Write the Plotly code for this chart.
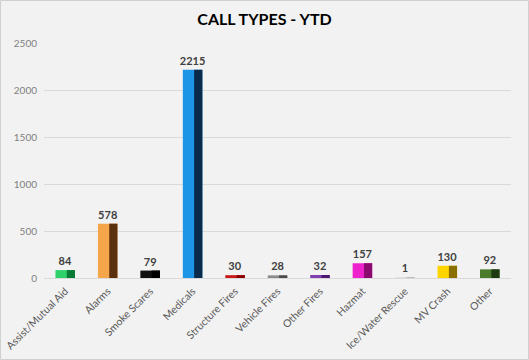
import plotly.graph_objects as go

categories = ["Assist/Mutual Aid", "Alarms", "Smoke Scares", "Medicals", "Structure Fires",
              "Vehicle Fires", "Other Fires", "Hazmat", "Ice/Water Rescue", "MV Crash", "Other"]
values = [84, 578, 79, 2215, 30, 28, 32, 157, 1, 130, 92]
light_colors = ["#2fd16a", "#f5a54a", "#111111", "#1c95e6", "#c81818", "#8a8a8a", "#8040b0",
                "#ee22cc", "#e0e0e0", "#ffd500", "#4a7a2a"]
dark_colors = ["#0b7a35", "#5a3210", "#000000", "#0a2a4a", "#8a0000", "#4a4a4a", "#4a1a70",
               "#8a0a70", "#bcbcbc", "#8a7000", "#1f3a10"]

W = 0.46
fig = go.Figure()
fig.add_trace(go.Bar(
    x=categories, y=values, width=W,
    marker=dict(color=light_colors, line=dict(width=0)),
    text=values, textposition="outside", cliponaxis=False, constraintext="none",
    textfont=dict(family="Lato", size=11, color="#404040", weight="bold"),
    hoverinfo="x+y", showlegend=False,
))
fig.add_trace(go.Bar(
    x=categories, y=values, width=W * 0.42, offset=W * 0.08,
    marker=dict(color=dark_colors, line=dict(width=0)),
    hoverinfo="skip", showlegend=False,
))

pw = 529 - 44 - 18
ph = 360 - 43 - 82
fig.update_layout(
    width=529, height=360,
    margin=dict(l=44, r=18, t=43, b=82),
    paper_bgcolor="#f2f2f2", plot_bgcolor="#f2f2f2",
    barmode="overlay",
    title=dict(text="<b>CALL TYPES - YTD</b>", x=0.5, xanchor="center", y=0.945, yanchor="middle",
               font=dict(family="Lato", size=16, color="#000000")),
    font=dict(family="Lato", color="#595959"),
    xaxis=dict(tickangle=-45, tickfont=dict(size=10.5, color="#595959"), showgrid=False,
               showline=True, linecolor="#d9d9d9", linewidth=1, ticks="", automargin=False,
               ticklabelstandoff=2),
    yaxis=dict(range=[0, 2500], dtick=500, tickfont=dict(size=10, color="#7f7f7f"),
               gridcolor="#d9d9d9", gridwidth=1, zeroline=False, ticks="", ticklabelstandoff=6,
               automargin=False),
    shapes=[dict(type="rect", xref="paper", yref="paper",
                 x0=-43.5 / pw, x1=1 + 17.5 / pw, y0=-81.5 / ph, y1=1 + 42.5 / ph,
                 line=dict(color="#d0d0d0", width=1), fillcolor="rgba(0,0,0,0)", layer="below")],
)
fig.write_html("out.html", config={"displayModeBar": False},
               post_script="document.body.style.margin='0';document.body.style.overflow='hidden';")
